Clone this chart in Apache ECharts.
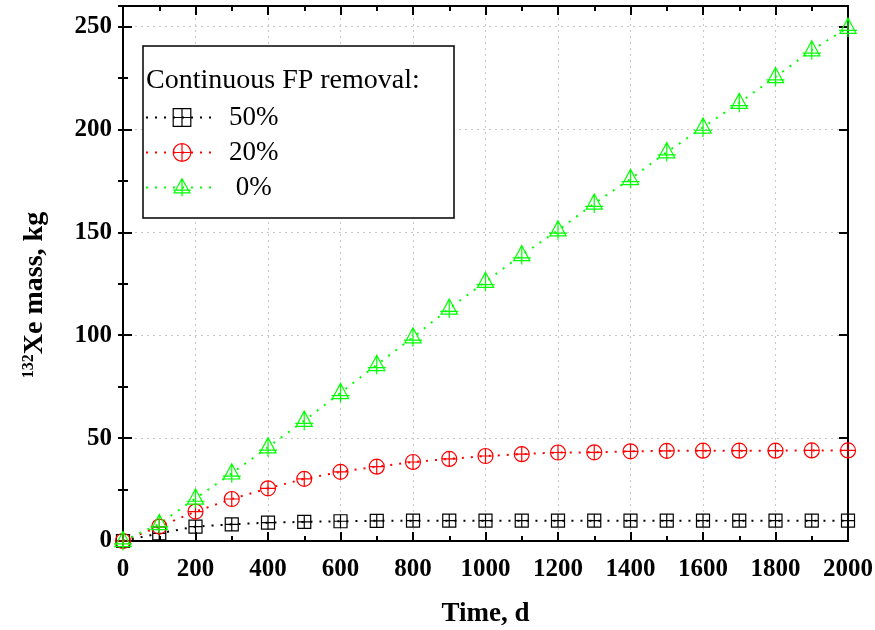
<!doctype html>
<html>
<head>
<meta charset="utf-8">
<title>132Xe mass</title>
<script src="https://cdn.jsdelivr.net/npm/echarts@6/dist/echarts.min.js"></script>
<style>
  html, body { margin: 0; padding: 0; background: #fff; }
  #main { width: 875px; height: 630px; }
</style>
</head>
<body>
<div id="main"></div>
<script>
var days = [0, 100, 200, 300, 400, 500, 600, 700, 800, 900, 1000,
            1100, 1200, 1300, 1400, 1500, 1600, 1700, 1800, 1900, 2000];
var xe50 = [0, 3.7, 7.0, 8.1, 8.9, 9.3, 9.6, 9.8, 9.9, 9.9, 9.9,
            9.9, 9.9, 9.9, 9.9, 9.9, 9.9, 9.9, 9.9, 9.9, 9.9];
var xe20 = [0, 7.0, 14.3, 20.4, 25.6, 30.2, 33.6, 36.1, 38.4, 39.9, 41.3,
            42.2, 43.0, 43.1, 43.6, 43.8, 43.9, 43.9, 43.9, 44.0, 44.0];
var xe0 = [0, 8.3, 20.7, 32.9, 45.6, 58.5, 72, 85.6, 99, 113, 126,
           139, 151, 164, 176, 189, 201, 213, 225.5, 238.5, 249.5];
var names = ['50%', '20%', ' 0%'];
var colors = ['#000000', '#ff0000', '#00ff00'];
var legendTitle = 'Continuous FP removal:';

var serif = '"Liberation Serif", "Times New Roman", serif';

// open markers with a cross, like the Origin symbols
var sqPath = 'path://M0,0H12V12H0Z M6,0V12 M0,6H12';
var circPath = 'path://M0,8A8,8 0 1 1 16,8A8,8 0 1 1 0,8Z M8,0V16 M0,8H16';
var triPath = 'path://M10,0L19,16L1,16Z M10,0V20 M0,13H20';

function pairs(ys) {
    return days.map(function (d, i) { return [d, ys[i]]; });
}

function mkSeries(name, ys, color, symbol, size) {
    return {
        name: name,
        type: 'line',
        data: pairs(ys),
        xAxisIndex: 0,
        yAxisIndex: 0,
        symbol: symbol,
        symbolSize: size,
        showAllSymbol: true,
        z: 2,
        lineStyle: { color: color, width: 2, type: [2, 7] },
        itemStyle: { color: 'rgba(0,0,0,0)', borderColor: color, borderWidth: 1.2 },
        emphasis: { disabled: true }
    };
}

var tickBase = { show: true, inside: true, length: 9, lineStyle: { color: '#000', width: 2 } };
var axisLine = { show: true, onZero: false, lineStyle: { color: '#000', width: 2 } };
var gridLine = { show: true, lineStyle: { color: '#c8c8c8', type: [2, 4], width: 1 } };

var chart = echarts.init(document.getElementById('main'));

chart.setOption({
    animation: false,
    backgroundColor: '#fff',
    grid: { left: 123, right: 27, top: 6, bottom: 89, outerBoundsMode: 'none', containLabel: false },
    xAxis: [{
        type: 'value', min: 0, max: 2000, interval: 200, position: 'bottom',
        name: 'Time, d', nameLocation: 'middle', nameGap: 60,
        nameTextStyle: { fontFamily: serif, fontWeight: 'bold', fontSize: 27, color: '#000' },
        axisLine: axisLine,
        axisTick: tickBase,
        minorTick: { show: true, splitNumber: 2, length: 5, lineStyle: { color: '#000', width: 2 } },
        axisLabel: {
            fontFamily: serif, fontWeight: 'bold', fontSize: 25, color: '#000', margin: 16,
            formatter: function (v) { return String(v); }
        },
        splitLine: gridLine
    }, {
        type: 'value', min: 0, max: 2000, interval: 200, position: 'top',
        axisLine: axisLine,
        axisTick: tickBase,
        minorTick: { show: true, splitNumber: 2, length: 5, lineStyle: { color: '#000', width: 2 } },
        axisLabel: { show: false },
        splitLine: { show: false }
    }],
    yAxis: [{
        type: 'value', min: 0, max: 260, interval: 50, position: 'left',
        axisLine: axisLine,
        axisTick: tickBase,
        axisLabel: {
            fontFamily: serif, fontWeight: 'bold', fontSize: 25, color: '#000', margin: 11,
            formatter: function (v) { return v % 50 === 0 ? String(v) : ''; }
        },
        splitLine: gridLine
    }, {
        type: 'value', min: 0, max: 260, interval: 50, position: 'right',
        axisLine: axisLine,
        axisTick: tickBase,
        axisLabel: { show: false },
        splitLine: { show: false }
    }, {
        type: 'value', min: 0, max: 260, interval: 25, position: 'left',
        axisLine: { show: false },
        axisTick: { show: true, inside: true, length: 5, lineStyle: { color: '#000', width: 2 } },
        axisLabel: { show: false },
        splitLine: { show: false }
    }, {
        type: 'value', min: 0, max: 260, interval: 25, position: 'right',
        axisLine: { show: false },
        axisTick: { show: true, inside: true, length: 5, lineStyle: { color: '#000', width: 2 } },
        axisLabel: { show: false },
        splitLine: { show: false }
    }],
    legend: {
        orient: 'vertical',
        left: 145,
        top: 104,
        padding: 0,
        itemWidth: 72,
        itemHeight: 22,
        itemGap: 8,
        selectedMode: false,
        data: names.map(function (n, i) {
            return {
                name: n,
                itemStyle: { color: 'rgba(0,0,0,0)', borderColor: colors[i], borderWidth: 1.2 }
            };
        }),
        textStyle: { fontFamily: serif, fontSize: 27, color: '#000', lineHeight: 27, padding: [0, 0, 0, 6] }
    },
    graphic: [{
        type: 'rect',
        z: 3,
        shape: { x: 143, y: 46, width: 311, height: 172 },
        style: { fill: '#fff', stroke: '#000', lineWidth: 1.5 }
    }, {
        type: 'text',
        z: 5,
        x: 146,
        y: 81,
        style: {
            text: legendTitle, fontFamily: serif, fontSize: 28, fill: '#000',
            textAlign: 'left', textVerticalAlign: 'middle'
        }
    }, {
        type: 'text',
        z: 5,
        x: 35,
        y: 295,
        rotation: Math.PI / 2,
        style: {
            text: '{sup|132}{main|Xe mass, kg}',
            textAlign: 'center', textVerticalAlign: 'middle',
            rich: {
                sup: { fontFamily: serif, fontWeight: 'bold', fontSize: 16, fill: '#000', verticalAlign: 'top', lineHeight: 28 },
                main: { fontFamily: serif, fontWeight: 'bold', fontSize: 28, fill: '#000', lineHeight: 28 }
            }
        }
    }],
    series: [
        mkSeries(names[0], xe50, colors[0], sqPath, [13, 13]),
        mkSeries(names[1], xe20, colors[1], circPath, [15, 15]),
        mkSeries(names[2], xe0, colors[2], triPath, [18, 19])
    ]
});
</script>
</body>
</html>
